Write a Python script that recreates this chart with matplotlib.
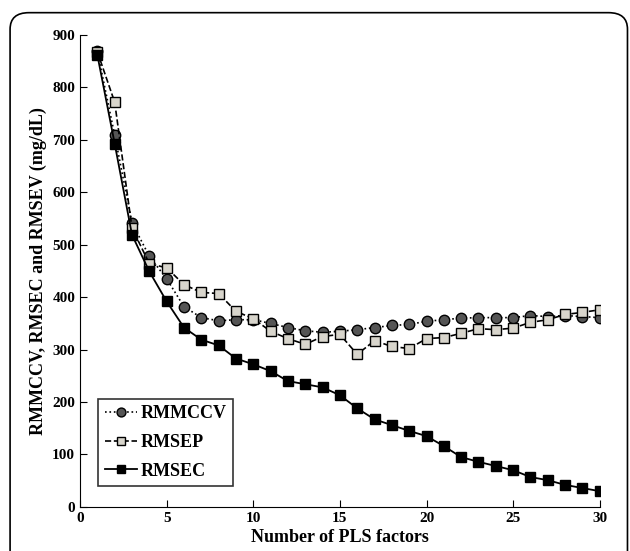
import matplotlib
matplotlib.use("Agg")
import matplotlib.pyplot as plt
from matplotlib.patches import FancyBboxPatch

factors = list(range(1, 31))
rmmccv = [869, 709, 542, 478, 435, 382, 361, 355, 357, 357, 350, 342, 336, 333, 335,
          338, 342, 346, 348, 354, 357, 360, 361, 361, 361, 365, 363, 365, 363, 361]
rmsep = [868, 772, 532, 464, 456, 424, 409, 407, 373, 359, 335, 321, 310, 325, 329,
         291, 317, 306, 302, 321, 323, 331, 340, 338, 341, 352, 357, 367, 371, 376]
rmsec = [862, 693, 519, 449, 392, 342, 319, 308, 283, 272, 259, 240, 234, 228, 213,
         188, 167, 156, 145, 135, 116, 95, 86, 78, 70, 57, 51, 42, 36, 30]
xticks = [0, 5, 10, 15, 20, 25, 30]
yticks = [0, 100, 200, 300, 400, 500, 600, 700, 800, 900]

plt.rcParams['font.family'] = ['Liberation Serif', 'DejaVu Serif']
plt.rcParams['font.weight'] = 'bold'

fig = plt.figure(figsize=(6.3, 5.51), dpi=100)
frame = FancyBboxPatch((0.016, -0.05), 0.98, 1.027, boxstyle="round,pad=0,rounding_size=0.03",
                       transform=fig.transFigure, fill=False, edgecolor='black', linewidth=1.2,
                       clip_on=False)
fig.patches.append(frame)

ax = fig.add_axes([0.127, 0.080, 0.825, 0.8565])
ax.plot(factors, rmmccv, linestyle=':', color='black', linewidth=1.2, marker='o',
        markersize=7.5, markerfacecolor='#555555', markeredgecolor='black', label='RMMCCV')
ax.plot(factors, rmsep, linestyle='--', color='black', linewidth=1.2, marker='s',
        markersize=6.5, markerfacecolor='#d8d5cc', markeredgecolor='black', label='RMSEP')
ax.plot(factors, rmsec, linestyle='-', color='black', linewidth=1.3, marker='s',
        markersize=6.5, markerfacecolor='black', markeredgecolor='black', label='RMSEC')

ax.set_xlim(0, 30)
ax.set_ylim(0, 900)
ax.set_xticks(xticks)
ax.set_yticks(yticks)
ax.spines['top'].set_visible(False)
ax.spines['right'].set_visible(False)
ax.tick_params(direction='in', labelsize=11, length=5)
for lab in ax.get_xticklabels() + ax.get_yticklabels():
    lab.set_fontweight('bold')
ax.set_xlabel('Number of PLS factors', fontsize=13, fontweight='bold', labelpad=3)
ax.set_ylabel('RMMCCV, RMSEC and RMSEV (mg/dL)', fontsize=13, fontweight='bold', labelpad=4)

leg = ax.legend(loc='lower left', bbox_to_anchor=(0.018, 0.025), fontsize=13, frameon=True,
                fancybox=False, edgecolor='black', handlelength=1.8, handletextpad=0.2,
                borderpad=0.35, labelspacing=0.65, markerscale=0.85)
leg.get_frame().set_linewidth(1.2)
for t in leg.get_texts():
    t.set_fontweight('bold')

fig.savefig('out.png', dpi=100)
